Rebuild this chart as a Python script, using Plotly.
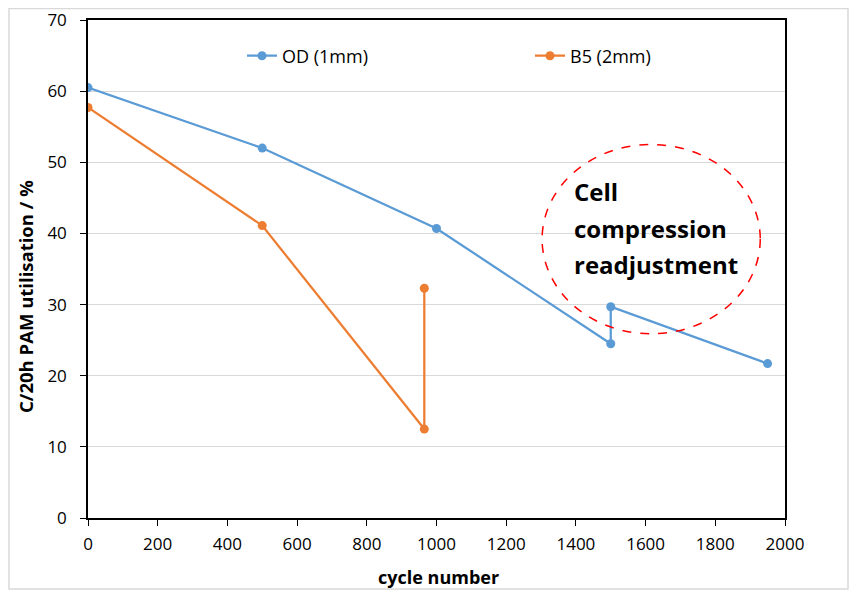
import plotly.graph_objects as go

od_x = [0, 500, 1000, 1500, 1500, 1950]
od_y = [60.5, 52.0, 40.7, 24.5, 29.7, 21.7]
b5_x = [0, 500, 965, 965]
b5_y = [57.7, 41.1, 12.5, 32.3]
x_ticks = [0, 200, 400, 600, 800, 1000, 1200, 1400, 1600, 1800, 2000]
y_ticks = [0, 10, 20, 30, 40, 50, 60, 70]
note_lines = ["Cell", "compression", "readjustment"]
note_y = [45.9, 40.7, 35.7]

# page is rendered with an 8px body margin
OFF = 8
W, H = 851, 584
ml, mr, mt, mb = 80, 74, 12, 74
pw, ph = W - ml - mr, H - mt - mb

def px_x(p_page):
    return (p_page - OFF - ml) / pw

def px_y(p_page):
    return (H - mb - (p_page - OFF)) / ph

fig = go.Figure()
fig.add_trace(go.Scatter(x=od_x, y=od_y, mode="lines+markers", name="OD (1mm)",
                         line=dict(color="#5B9BD5", width=2.25),
                         marker=dict(color="#5B9BD5", size=9), legend="legend"))
fig.add_trace(go.Scatter(x=b5_x, y=b5_y, mode="lines+markers", name="B5 (2mm)",
                         line=dict(color="#ED7D31", width=2.25),
                         marker=dict(color="#ED7D31", size=9), legend="legend2"))

font = "Open Sans, Liberation Sans, sans-serif"
leg_common = dict(yanchor="middle", xanchor="left", font=dict(size=18, color="black"),
                  bgcolor="rgba(0,0,0,0)")

fig.update_layout(
    width=W, height=H,
    margin=dict(l=ml, r=mr, t=mt, b=mb, autoexpand=False),
    paper_bgcolor="white", plot_bgcolor="white",
    font=dict(family=font, size=15, color="black"),
    showlegend=True,
    legend=dict(x=px_x(242), y=px_y(56), **leg_common),
    legend2=dict(x=px_x(530), y=px_y(56), **leg_common),
    xaxis=dict(range=[0, 2000], tickvals=x_ticks, ticks="outside", ticklen=6,
               tickcolor="black", showline=True, linecolor="black", linewidth=1.5,
               mirror=True, showgrid=False, zeroline=False, automargin=False,
               tickfont=dict(size=17), ticklabelstandoff=4, ticklabeloverflow="allow"),
    yaxis=dict(range=[0, 70], tickvals=y_ticks, ticks="outside", ticklen=6,
               tickcolor="black", showline=True, linecolor="black", linewidth=1.5,
               mirror=True, showgrid=True, gridcolor="#D9D9D9", zeroline=False,
               automargin=False, tickfont=dict(size=17), ticklabelstandoff=10,
               ticklabeloverflow="allow"),
)

fig.add_annotation(x=px_x(438), y=px_y(577), xref="paper", yref="paper",
                   text="<b>cycle number</b>", showarrow=False,
                   xanchor="center", yanchor="middle", font=dict(size=18))
fig.add_annotation(x=px_x(25), y=px_y(297), xref="paper", yref="paper",
                   text="<b>C/20h PAM utilisation / %</b>", showarrow=False, textangle=-90,
                   xanchor="center", yanchor="middle", font=dict(size=18.5))

fig.add_shape(type="circle", xref="x", yref="y", x0=1303, x1=1929, y0=25.9, y1=52.5,
              line=dict(color="#FF0000", width=1.5, dash="dash"))
for txt, yy in zip(note_lines, note_y):
    fig.add_annotation(x=1390, y=yy, xref="x", yref="y", text="<b>" + txt + "</b>",
                       showarrow=False, xanchor="left", yanchor="middle", align="left",
                       font=dict(size=24, color="black"))

fig.add_shape(type="rect", xref="paper", yref="paper",
              x0=px_x(9), x1=px_x(848), y0=px_y(589), y1=px_y(8.5),
              line=dict(color="#D9D9D9", width=1.5), layer="below")

fig.write_html("out.html")
